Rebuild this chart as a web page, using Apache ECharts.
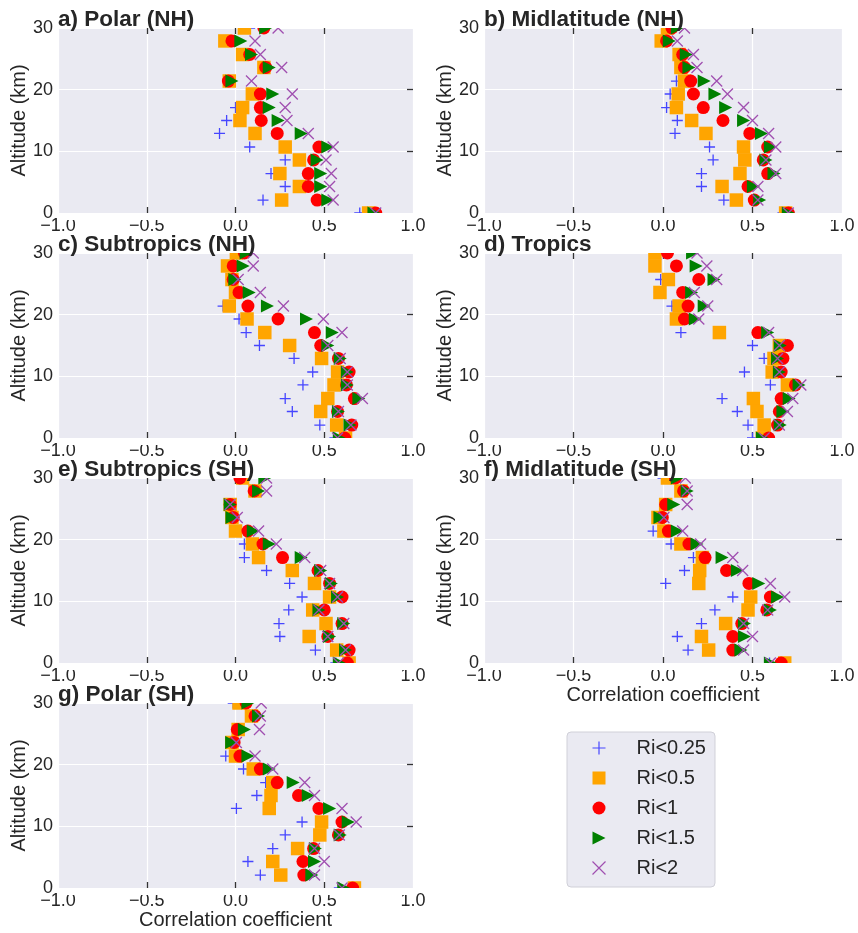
<!DOCTYPE html>
<html>
<head>
<meta charset="utf-8">
<script src="https://cdn.jsdelivr.net/npm/echarts@6/dist/echarts.min.js"></script>
<style>html,body{margin:0;padding:0;background:#fff}#c{width:858px;height:933px}</style>
</head>
<body>
<div id="c"></div>
<script>
// Altitude levels (km), top to bottom
const levels = [30, 27.9, 25.7, 23.6, 21.4, 19.3, 17.1, 15.0, 12.9, 10.7, 8.6, 6.4, 4.3, 2.1, 0];
const seriesNames = ['Ri<0.25', 'Ri<0.5', 'Ri<1', 'Ri<1.5', 'Ri<2'];
const panelTitles = ['a) Polar (NH)', 'b) Midlatitude (NH)', 'c) Subtropics (NH)', 'd) Tropics',
                     'e) Subtropics (SH)', 'f) Midlatitude (SH)', 'g) Polar (SH)'];
const xTicks = [-1, -0.5, 0, 0.5, 1];
const yTicks = [0, 10, 20, 30];
const xTitle = 'Correlation coefficient';
const yTitle = 'Altitude (km)';

// a) Polar (NH)
const aRi025 = [0.08, -0.06, 0.04, 0.16, -0.04, 0.09, 0.00, -0.05, -0.09, 0.08, 0.28, 0.20, 0.28, 0.155, 0.70];
const aRi05  = [0.05, -0.06, 0.04, 0.16, -0.035, 0.095, 0.04, 0.025, 0.11, 0.28, 0.36, 0.25, 0.36, 0.26, 0.75];
const aRi1   = [0.16, -0.02, 0.08, 0.17, -0.04, 0.14, 0.14, 0.145, 0.235, 0.47, 0.44, 0.41, 0.41, 0.46, 0.79];
const aRi15  = [0.17, 0.03, 0.09, 0.19, -0.02, 0.21, 0.19, 0.24, 0.37, 0.52, 0.46, 0.48, 0.48, 0.52, 0.78];
const aRi2   = [0.24, 0.11, 0.14, 0.26, 0.09, 0.32, 0.28, 0.29, 0.41, 0.55, 0.51, 0.54, 0.53, 0.55, 0.79];
// b) Midlatitude (NH)
const bRi025 = [0.02, -0.01, 0.09, 0.10, 0.075, 0.04, 0.02, 0.08, 0.067, 0.26, 0.28, 0.215, 0.215, 0.34, 0.67];
const bRi05  = [0.025, -0.01, 0.09, 0.10, 0.12, 0.085, 0.075, 0.16, 0.24, 0.45, 0.457, 0.43, 0.33, 0.41, 0.685];
const bRi1   = [0.05, 0.02, 0.11, 0.12, 0.155, 0.17, 0.225, 0.335, 0.485, 0.585, 0.56, 0.585, 0.475, 0.51, 0.70];
const bRi15  = [0.08, 0.035, 0.13, 0.145, 0.23, 0.29, 0.35, 0.45, 0.55, 0.60, 0.575, 0.62, 0.505, 0.54, 0.70];
const bRi2   = [0.12, 0.08, 0.17, 0.19, 0.30, 0.36, 0.45, 0.50, 0.59, 0.63, 0.575, 0.63, 0.53, 0.53, 0.70];
// c) Subtropics (NH)
const cRi025 = [0.0, -0.05, -0.02, 0.0, -0.07, 0.02, 0.06, 0.135, 0.33, 0.435, 0.38, 0.28, 0.32, 0.475, 0.56];
const cRi05  = [0.005, -0.045, -0.02, 0.0, -0.035, 0.065, 0.165, 0.305, 0.485, 0.575, 0.555, 0.52, 0.48, 0.57, 0.62];
const cRi1   = [0.05, -0.013, -0.013, 0.02, 0.07, 0.24, 0.445, 0.48, 0.58, 0.64, 0.625, 0.67, 0.575, 0.655, 0.615];
const cRi15  = [0.06, 0.043, -0.004, 0.077, 0.18, 0.40, 0.545, 0.52, 0.59, 0.63, 0.63, 0.695, 0.58, 0.645, 0.585];
const cRi2   = [0.10, 0.10, 0.015, 0.14, 0.27, 0.495, 0.60, 0.52, 0.59, 0.63, 0.63, 0.715, 0.58, 0.65, 0.575];
// d) Tropics
const dRi025 = [0.005, -0.045, -0.013, -0.02, 0.05, 0.07, 0.10, 0.50, 0.565, 0.455, 0.60, 0.33, 0.415, 0.475, 0.50];
const dRi05  = [-0.045, -0.045, 0.03, -0.017, 0.09, 0.075, 0.315, 0.65, 0.62, 0.61, 0.695, 0.505, 0.525, 0.565, 0.555];
const dRi1   = [0.025, 0.075, 0.20, 0.11, 0.14, 0.12, 0.53, 0.695, 0.67, 0.66, 0.74, 0.66, 0.65, 0.64, 0.59];
const dRi15  = [0.165, 0.185, 0.285, 0.16, 0.23, 0.18, 0.585, 0.655, 0.64, 0.65, 0.76, 0.705, 0.67, 0.655, 0.555];
const dRi2   = [0.19, 0.245, 0.30, 0.175, 0.25, 0.20, 0.59, 0.65, 0.64, 0.65, 0.77, 0.725, 0.695, 0.65, 0.565];
// e) Subtropics (SH)
const eRi025 = [0.03, 0.11, -0.03, -0.02, 0.0, 0.05, 0.05, 0.175, 0.305, 0.375, 0.30, 0.245, 0.25, 0.45, 0.565];
const eRi05  = [0.04, 0.11, -0.03, -0.02, 0.0, 0.095, 0.13, 0.32, 0.445, 0.53, 0.435, 0.51, 0.415, 0.57, 0.64];
const eRi1   = [0.025, 0.105, -0.03, -0.013, 0.07, 0.155, 0.265, 0.465, 0.53, 0.60, 0.50, 0.60, 0.52, 0.64, 0.63];
const eRi15  = [0.165, 0.13, -0.03, -0.02, 0.10, 0.19, 0.37, 0.48, 0.54, 0.575, 0.47, 0.61, 0.53, 0.62, 0.585];
const eRi2   = [0.175, 0.175, -0.03, 0.01, 0.13, 0.23, 0.39, 0.48, 0.53, 0.575, 0.47, 0.61, 0.52, 0.62, 0.58];
// f) Midlatitude (SH)
const fRi025 = [0.0, 0.10, 0.015, -0.03, -0.055, 0.045, 0.17, 0.12, 0.015, 0.39, 0.29, 0.215, 0.08, 0.14, 0.595];
const fRi05  = [0.025, 0.10, 0.015, -0.028, 0.005, 0.10, 0.22, 0.205, 0.20, 0.49, 0.475, 0.35, 0.215, 0.255, 0.68];
const fRi1   = [0.07, 0.115, 0.015, -0.004, 0.03, 0.145, 0.235, 0.355, 0.48, 0.60, 0.58, 0.44, 0.39, 0.39, 0.66];
const fRi15  = [0.08, 0.135, 0.06, -0.017, 0.08, 0.19, 0.33, 0.415, 0.535, 0.64, 0.60, 0.455, 0.455, 0.435, 0.60];
const fRi2   = [0.125, 0.135, 0.135, 0.005, 0.11, 0.21, 0.39, 0.445, 0.60, 0.68, 0.585, 0.45, 0.50, 0.45, 0.60];
// g) Polar (SH)
const gRi025 = [-0.013, 0.09, 0.015, -0.02, -0.055, 0.045, 0.17, 0.12, 0.005, 0.375, 0.28, 0.21, 0.07, 0.14, 0.585];
const gRi05  = [0.02, 0.09, 0.015, -0.02, 0.0, 0.10, 0.21, 0.20, 0.19, 0.485, 0.475, 0.35, 0.21, 0.255, 0.67];
const gRi1   = [0.06, 0.11, 0.01, -0.008, 0.025, 0.14, 0.235, 0.355, 0.47, 0.60, 0.58, 0.44, 0.38, 0.385, 0.66];
const gRi15  = [0.07, 0.13, 0.05, -0.022, 0.07, 0.19, 0.325, 0.41, 0.53, 0.635, 0.59, 0.45, 0.445, 0.43, 0.61];
const gRi2   = [0.145, 0.14, 0.135, 0.005, 0.11, 0.21, 0.39, 0.445, 0.60, 0.68, 0.585, 0.445, 0.50, 0.445, 0.60];

const panelData = [
  [aRi025, aRi05, aRi1, aRi15, aRi2],
  [bRi025, bRi05, bRi1, bRi15, bRi2],
  [cRi025, cRi05, cRi1, cRi15, cRi2],
  [dRi025, dRi05, dRi1, dRi15, dRi2],
  [eRi025, eRi05, eRi1, eRi15, eRi2],
  [fRi025, fRi05, fRi1, fRi15, fRi2],
  [gRi025, gRi05, gRi1, gRi15, gRi2]
];

// ---- styling / layout ----
const FONT = "'Liberation Sans', Arial, sans-serif";
const TXT = '#262626';
const BG = '#EAEAF2';
const colLeft = [58, 484];
const colWidth = [355, 358];
const rowTop = [28, 253, 478, 703];
const plotH = 185;
const showXName = [false, false, false, false, false, true, true];

const PLUS = 'path://M5,0L5,10M0,5L10,5';
const CROSS = 'path://M0,0L10,10M10,0L0,10';
const TRI_RIGHT = 'path://M0,0L10,5L0,10Z';
const markerStyles = [
  { symbol: PLUS, symbolSize: 11, itemStyle: { color: 'none', borderColor: '#4646ff', borderWidth: 1.3, opacity: 1 } },
  { symbol: 'rect', symbolSize: 13.5, itemStyle: { color: '#FFA500', opacity: 1 } },
  { symbol: 'circle', symbolSize: 13, itemStyle: { color: '#FF0000', opacity: 1 } },
  { symbol: 'triangle', symbolSize: 13, symbolRotate: -90, itemStyle: { color: '#008000', opacity: 1 } },
  { symbol: CROSS, symbolSize: 11, itemStyle: { color: 'none', borderColor: '#a04fb0', borderWidth: 1.3, opacity: 1 } }
];
const legendIcons = [PLUS, 'rect', 'circle', TRI_RIGHT, CROSS];

const fmtX = v => (v < 0 ? '\u2212' + (-v).toFixed(1) : v.toFixed(1));
const tickStyle = { show: true, inside: true, length: 6, lineStyle: { color: '#333', width: 1.3 } };
const noLine = { show: false, onZero: false };

const grids = [], xAxes = [], yAxes = [], series = [], titles = [], graphics = [];
panelTitles.forEach((t, i) => {
  const col = i % 2, row = Math.floor(i / 2);
  const left = colLeft[col], w = colWidth[col], top = rowTop[row];
  const xr = { type: 'value', gridIndex: i, min: xTicks[0], max: xTicks[xTicks.length - 1], interval: 0.5 };
  const yr = { type: 'value', gridIndex: i, min: yTicks[0], max: yTicks[yTicks.length - 1], interval: 10 };
  grids.push({ left: left, top: top, width: w, height: plotH, show: true, backgroundColor: BG,
               borderWidth: 0, containLabel: false, outerBoundsMode: 'none' });
  // bottom x axis: labels, grid lines, name
  xAxes.push(Object.assign({}, xr, {
    position: 'bottom', axisLine: noLine, axisTick: { show: false },
    axisLabel: { show: true, customValues: xTicks, formatter: fmtX, fontSize: 18, color: TXT, fontFamily: FONT, margin: 4 },
    splitLine: { show: true, lineStyle: { color: '#ffffff', width: 1.2 } },
    name: showXName[i] ? xTitle : '', nameLocation: 'middle', nameGap: 21,
    nameTextStyle: { fontSize: 20, color: TXT, fontFamily: FONT }
  }));
  // top x axis: inner ticks
  xAxes.push(Object.assign({}, xr, {
    position: 'top', z: 1, axisLine: noLine,
    axisTick: Object.assign({ customValues: xTicks.slice(1, -1) }, tickStyle),
    axisLabel: { show: false }, splitLine: { show: false }
  }));
  // bottom x axis: inner ticks
  xAxes.push(Object.assign({}, xr, {
    position: 'bottom', z: 1, axisLine: noLine,
    axisTick: Object.assign({ customValues: xTicks.slice(1, -1) }, tickStyle),
    axisLabel: { show: false }, splitLine: { show: false }
  }));
  // left y axis: labels, grid lines, name
  yAxes.push(Object.assign({}, yr, {
    position: 'left', axisLine: noLine, axisTick: { show: false },
    axisLabel: { show: true, customValues: yTicks, fontSize: 18, color: TXT, fontFamily: FONT, margin: 5 },
    splitLine: { show: true, lineStyle: { color: '#ffffff', width: 1.2 } },
    name: yTitle, nameLocation: 'middle', nameGap: 26,
    nameTextStyle: { fontSize: 20, color: TXT, fontFamily: FONT }
  }));
  // right y axis: inner ticks
  yAxes.push(Object.assign({}, yr, {
    position: 'right', z: 1, axisLine: noLine,
    axisTick: Object.assign({ customValues: yTicks.slice(1, -1) }, tickStyle),
    axisLabel: { show: false }, splitLine: { show: false }
  }));
  titles.push({ text: t, left: left, top: top - 20, padding: 0,
                textStyle: { fontSize: 22.5, fontWeight: 'bold', color: TXT, fontFamily: FONT } });
  panelData[i].forEach((vals, k) => {
    series.push(Object.assign({
      type: 'scatter', name: seriesNames[k], xAxisIndex: 3 * i, yAxisIndex: 2 * i,
      data: vals.map((v, j) => [v, levels[j]]), clip: true, z: 2, animation: false
    }, markerStyles[k]));
  });
  // white strips that clip half-markers sticking out of the plot area
  graphics.push({ type: 'rect', z: 3, silent: true, shape: { x: left - 1, y: top - 8, width: w + 2, height: 8 }, style: { fill: '#ffffff' } });
  graphics.push({ type: 'rect', z: 3, silent: true, shape: { x: left - 1, y: top + plotH, width: w + 2, height: 7 }, style: { fill: '#ffffff' } });
});

const chart = echarts.init(document.getElementById('c'), null, { renderer: 'canvas' });
chart.setOption({
  animation: false,
  backgroundColor: '#ffffff',
  textStyle: { fontFamily: FONT },
  title: titles,
  grid: grids,
  xAxis: xAxes,
  yAxis: yAxes,
  series: series,
  graphic: { elements: graphics },
  legend: {
    data: seriesNames.map((n, k) => ({ name: n, icon: legendIcons[k] })),
    orient: 'vertical', left: 567, top: 732,
    backgroundColor: BG, borderColor: '#d0d0d8', borderWidth: 1, borderRadius: 4,
    padding: [6, 9, 9, 23], itemGap: 10, itemWidth: 13, itemHeight: 13,
    itemStyle: { borderWidth: 1.2 },
    textStyle: { fontSize: 20, color: TXT, fontFamily: FONT, padding: [0, 0, 0, 26] },
    selectedMode: false
  }
});
</script>
</body>
</html>
